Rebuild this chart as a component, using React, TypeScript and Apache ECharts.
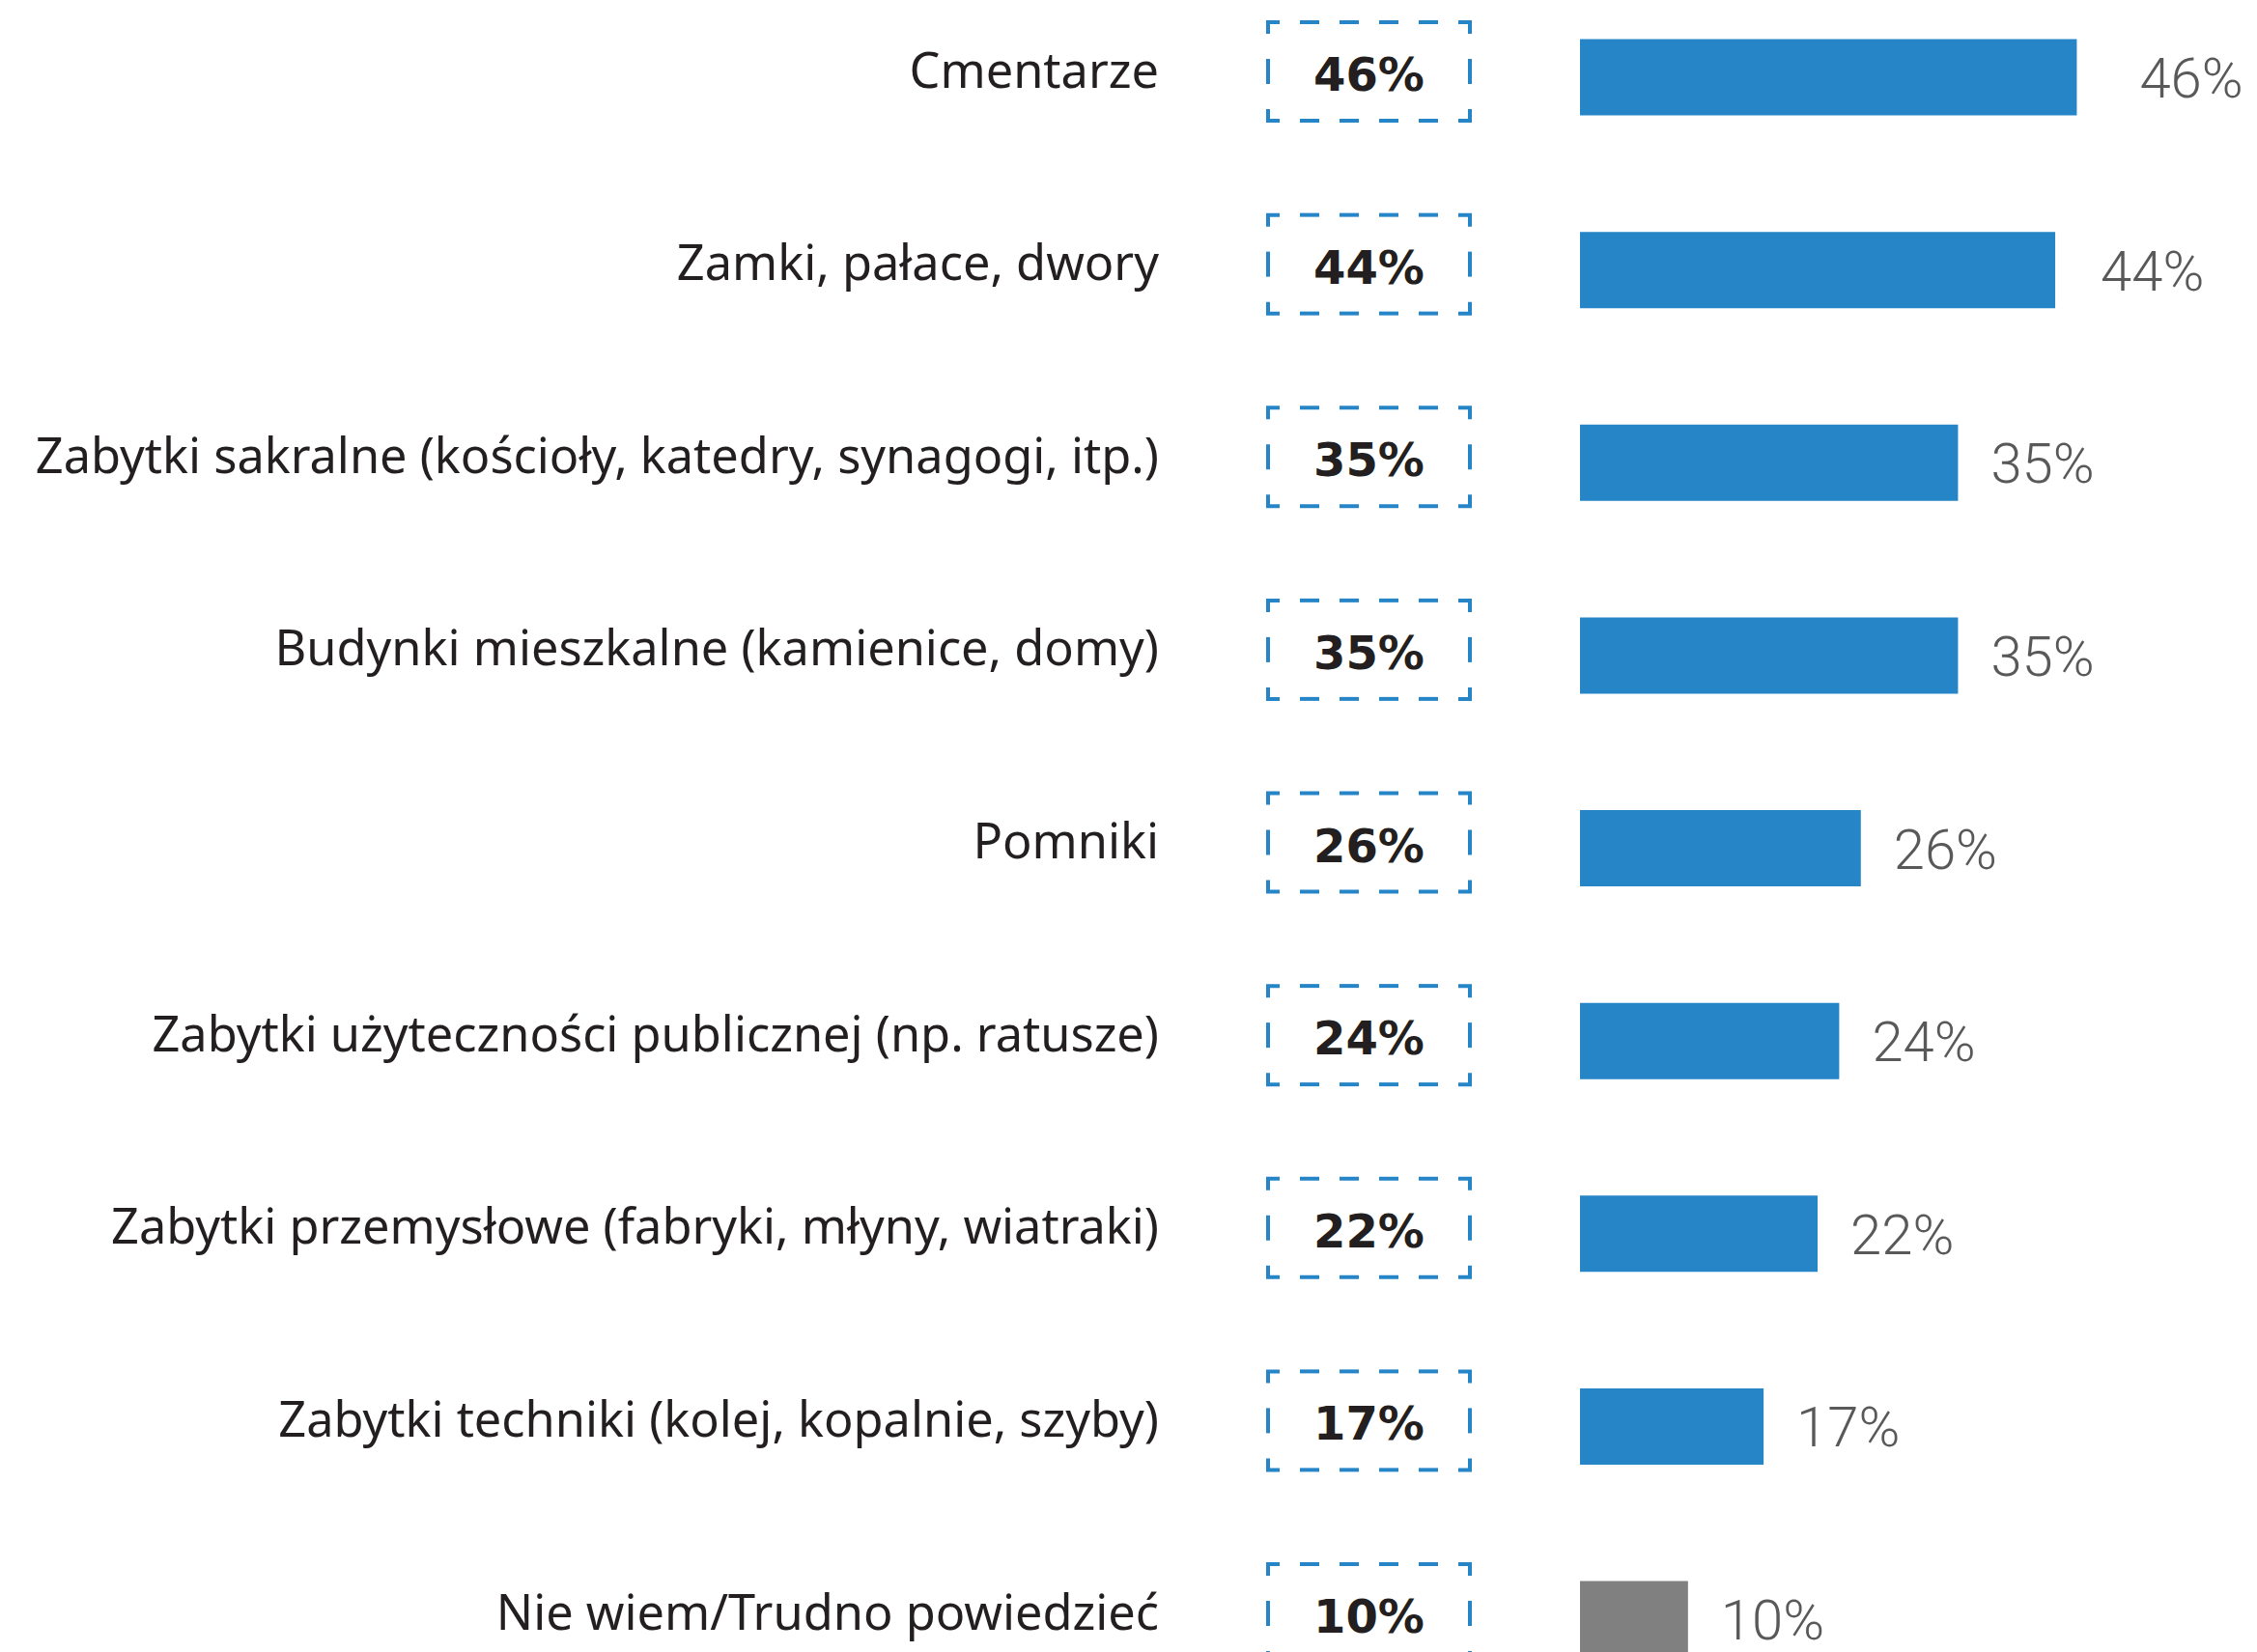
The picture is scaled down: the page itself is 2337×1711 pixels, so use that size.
import React, { useEffect, useRef } from "react";
import * as echarts from "echarts";

const categories = [
  "Cmentarze",
  "Zamki, pałace, dwory",
  "Zabytki sakralne (kościoły, katedry, synagogi, itp.)",
  "Budynki mieszkalne (kamienice, domy)",
  "Pomniki",
  "Zabytki użyteczności publicznej (np. ratusze)",
  "Zabytki przemysłowe (fabryki, młyny, wiatraki)",
  "Zabytki techniki (kolej, kopalnie, szyby)",
  "Nie wiem/Trudno powiedzieć",
];
const values = [46, 44, 35, 35, 26, 24, 22, 17, 10];
const boxValues = [46, 44, 35, 35, 26, 24, 22, 17, 10];
const grayIndex = 8;
const labelDistances = [65, 47, 34, 34, 34, 34, 34, 34, 34];

const BLUE = "#2585C7";
const GRAY = "#808080";

export default function App() {
  const ref = useRef<HTMLDivElement>(null);
  useEffect(() => {
    if (!ref.current) return;
    const chart = echarts.init(ref.current, undefined, { renderer: "svg" });

    const boxCx = 1417.5;
    const halfW = 104.5;
    const halfH = 51;
    const lw = 4;
    const corner = 12;
    const nameRight = 1200;

    const renderBox = (params: any, api: any) => {
      const idx = api.value(1);
      const yc = api.coord([0, idx])[1];
      const cy = yc - 6;
      const L = boxCx - halfW, R = boxCx + halfW, T = cy - halfH, B = cy + halfH;
      const style = { stroke: BLUE, lineWidth: lw, fill: "none" };
      const children: any[] = [];
      children.push({ type: "polyline", shape: { points: [[L, T + corner], [L, T], [L + corner, T]] }, style });
      children.push({ type: "polyline", shape: { points: [[R - corner, T], [R, T], [R, T + corner]] }, style });
      children.push({ type: "polyline", shape: { points: [[L, B - corner], [L, B], [L + corner, B]] }, style });
      children.push({ type: "polyline", shape: { points: [[R - corner, B], [R, B], [R, B - corner]] }, style });
      const dash = 20, gap = 21;
      for (let k = 0; k < 4; k++) {
        const x1 = L + corner + gap + k * (dash + gap);
        children.push({ type: "line", shape: { x1, y1: T, x2: x1 + dash, y2: T }, style });
        children.push({ type: "line", shape: { x1, y1: B, x2: x1 + dash, y2: B }, style });
      }
      const vd = 26;
      children.push({ type: "line", shape: { x1: L, y1: cy - vd / 2, x2: L, y2: cy + vd / 2 }, style });
      children.push({ type: "line", shape: { x1: R, y1: cy - vd / 2, x2: R, y2: cy + vd / 2 }, style });
      children.push({
        type: "text",
        style: {
          x: boxCx,
          y: cy + 3,
          text: boxValues[idx] + "%",
          fill: "#231F20",
          font: "bold 48px 'DejaVu Sans'",
          align: "center",
          verticalAlign: "middle",
        },
      });
      children.push({
        type: "text",
        style: {
          x: nameRight,
          y: yc - 9,
          text: categories[idx],
          fill: "#231F20",
          font: "50.5px 'Noto Sans'",
          align: "right",
          verticalAlign: "middle",
        },
      });
      return { type: "group", children };
    };

    chart.setOption({
      animation: false,
      backgroundColor: "#ffffff",
      grid: { left: 1636, width: 671, top: 80, bottom: 34, containLabel: false },
      xAxis: {
        type: "value",
        min: 0,
        max: 60,
        show: false,
      },
      yAxis: {
        type: "category",
        data: categories,
        inverse: true,
        boundaryGap: false,
        axisLine: { show: false },
        axisTick: { show: false },
        splitLine: { show: false },
        axisLabel: { show: false },
      },
      series: [
        {
          type: "bar",
          barWidth: 79,
          clip: false,
          data: values.map((v, i) => ({
            value: v,
            itemStyle: { color: i === grayIndex ? GRAY : BLUE },
            label: { distance: labelDistances[i] },
          })),
          label: {
            show: true,
            position: "right",
            distance: 34,
            offset: [0, 1],
            formatter: "{c}%",
            color: "#595959",
            fontFamily: "Roboto",
            fontWeight: 300,
            fontSize: 58,
            lineHeight: 54,
          },
        },
        {
          type: "custom",
          clip: false,
          encode: { x: 0, y: 1 },
          data: boxValues.map((v, i) => [v, i]),
          renderItem: renderBox,
        },
      ],
    });
    return () => chart.dispose();
  }, []);

  return (
    <div
      ref={ref}
      style={{ position: "absolute", left: 0, top: 0, width: 2337, height: 1711, background: "#fff" }}
    />
  );
}
